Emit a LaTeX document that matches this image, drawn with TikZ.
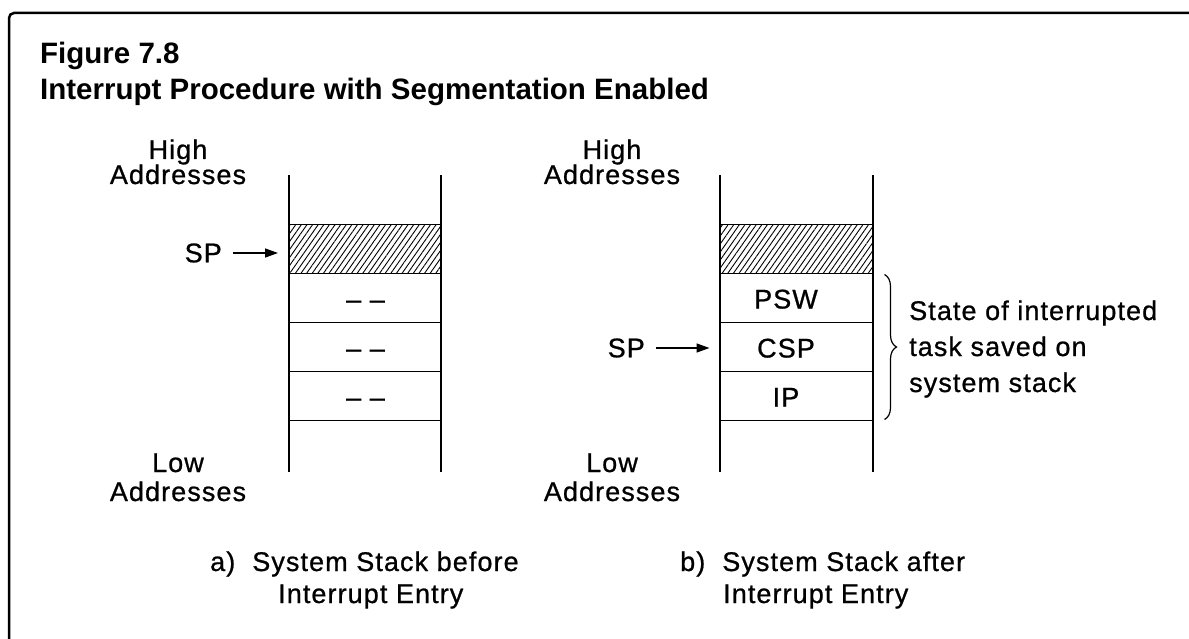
\documentclass[tikz,border=0pt]{standalone}
\usepackage{fontspec}
\setmainfont{Liberation Sans}
\newfontfamily\labelfont{Liberation Sans}[LetterSpace=4.0, FakeBold=0.8]
\usetikzlibrary{positioning,arrows.meta,decorations.pathreplacing,patterns.meta}
\newcommand{\lbl}{\labelfont\fontsize{27pt}{27pt}\selectfont}
\newcommand{\ttl}{\bfseries\fontsize{29.5pt}{36pt}\selectfont}

\begin{document}
\begin{tikzpicture}[x=1pt, y=-1pt,
  cell/.style={draw, line width=1.9pt, minimum width=152pt, minimum height=49pt, inner sep=0pt, outer sep=0pt},
  hatched/.style={cell, pattern={Lines[angle=55, distance=4.6pt, line width=0.9pt]}},
  wall/.style={line width=2.9pt},
  lbl/.style={font=\lbl, inner sep=0pt},
  ptr/.style={-{Triangle[length=13pt, width=9pt]}, line width=1.4pt, shorten <=11pt, shorten >=11pt}]
  \useasboundingbox (0,0) rectangle (1189,639);
  \draw[line width=2.5pt, rounded corners=5pt] (9,639) -- (9,13) -- (1189,13);
  \node[font=\ttl, anchor=base west, inner sep=0pt] (fig) at (40,64) {Figure 7.8};
  \node[font=\ttl, anchor=base west, inner sep=0pt] (ttl) at (40,100) {Interrupt Procedure with Segmentation Enabled};

  % a) before entry
  \node[hatched] (a0) at (365,249) {};
  \foreach \i in {1,2,3}{
    \node[cell] (a\i) at (365,249+49*\i) {};
    \node[lbl, anchor=base] (ad\i) at (365.5,259.5+49*\i) {– –};}
  \draw[wall] (289,175) -- (289,472);
  \draw[wall] (441,175) -- (441,472);
  \node[lbl, anchor=east] (spa) at (222,253) {SP};
  \draw[ptr] (spa.east) -- (spa.east -| a0.west);
  \node[lbl, anchor=base, align=center] (hia) at (178,184) {High\\[-2pt]Addresses};
  \node[lbl, anchor=base, align=center] (loa) at (178,501) {Low\\[2pt]Addresses};

  % b) after entry
  \node[hatched] (b0) at (796.5,249) {};
  \foreach \txt [count=\i] in {PSW,CSP,IP}{
    \node[cell] (b\i) at (796.5,249+49*\i) {};
    \node[lbl, anchor=base] (bt\i) at (786,259.5+49*\i) {\txt};}
  \draw[wall] (720,175) -- (720,472);
  \draw[wall] (873,175) -- (873,472);
  \node[lbl, anchor=east] (spb) at (645,348) {SP};
  \draw[ptr] (spb.east) -- (spb.east -| b0.west);
  \node[lbl, anchor=base, align=center] (hib) at (612,184) {High\\[-2pt]Addresses};
  \node[lbl, anchor=base, align=center] (lob) at (612,501) {Low\\[2pt]Addresses};
  \draw[decorate, decoration={brace, amplitude=12pt}, line width=1.2pt]
    ([xshift=12pt,yshift=-1pt]b1.north east) -- ([xshift=12pt,yshift=1pt]b3.south east);
  \node[font={\labelfont\fontsize{27pt}{36pt}\selectfont}, inner sep=0pt, anchor=base west, align=left] (state) at (909,392)
    {State of interrupted\\task saved on\\system stack};

  % captions
  \node[lbl, anchor=base west] (capa) at (210,571) {a)\hspace{17pt}System Stack before};
  \node[lbl, anchor=base west] (capa2) at (278,603) {Interrupt Entry};
  \node[lbl, anchor=base west] (capb) at (680,571) {b)\hspace{17pt}System Stack after};
  \node[lbl, anchor=base west] (capb2) at (723,603) {Interrupt Entry};
\end{tikzpicture}
\end{document}
